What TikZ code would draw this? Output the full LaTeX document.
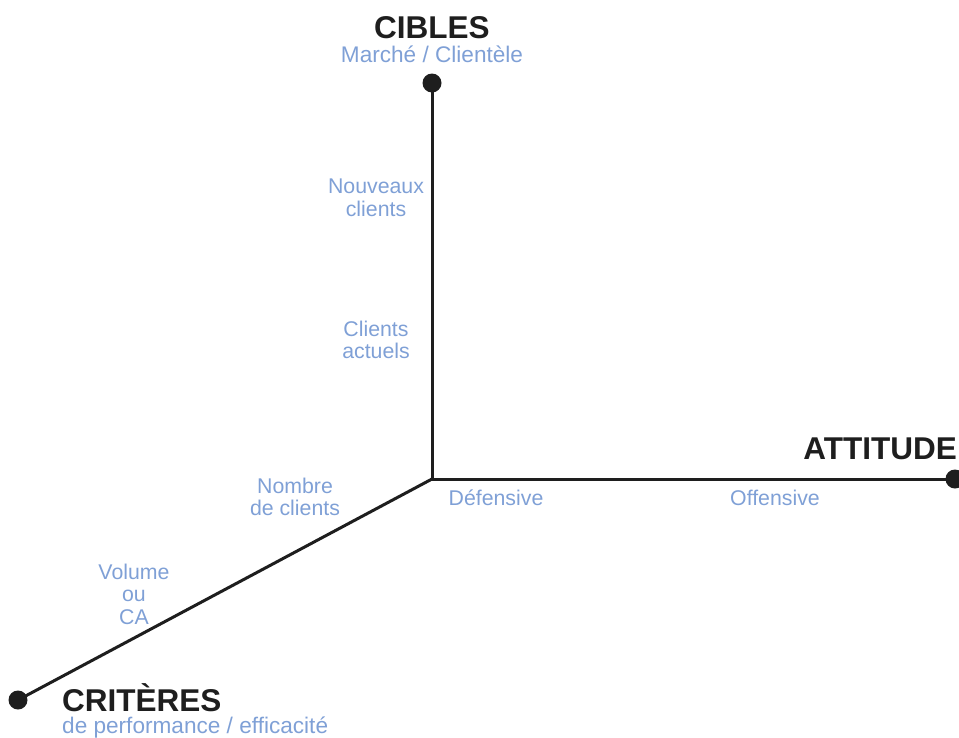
\documentclass[tikz,border=0pt]{standalone}
\usepackage{fontspec}
\setmainfont{Liberation Sans}
\definecolor{axisblue}{RGB}{127,160,214}
\definecolor{axisblack}{RGB}{30,30,30}

\begin{document}
\begin{tikzpicture}[x=1pt,y=-1pt,
    axis/.style={line width=3pt,axisblack},
    enddot/.style={circle,fill=axisblack,inner sep=0pt,minimum size=19pt},
    title/.style={font=\bfseries\fontsize{31.5}{34}\selectfont,text=axisblack,inner sep=0pt},
    subtitle/.style={font=\fontsize{22.6}{24}\selectfont,text=axisblue,inner sep=0pt},
    tick/.style={font=\fontsize{21.3}{22.5}\selectfont,text=axisblue,inner sep=0pt,align=center}]
    \useasboundingbox (0,0) rectangle (959,737);
    %axes
    \coordinate (O) at (432,479);
    \node [enddot] (cibles) at (432,83) {};
    \node [enddot] (attitude) at (955,479) {};
    \node [enddot] (criteres) at (18,700) {};
    \draw [axis] (O) -- (cibles.center);
    \draw [axis] (O) -- (attitude.center);
    \draw [axis] (O) -- (criteres.center);
    %titles
    \node [title,anchor=base] (tcibles) at (432,38) {CIBLES};
    \node [subtitle,anchor=base] (scibles) at (432,62) {Marché / Clientèle};
    \node [title,anchor=base east] (tattitude) at (957,459) {ATTITUDE};
    \node [title,anchor=base west] (tcriteres) at (62,711) {CRITÈRES};
    \node [subtitle,anchor=base west] (scriteres) at (62,733) {de performance / efficacité};
    %graduations
    \node [tick] (nouveaux) at (376,198) {Nouveaux\\clients};
    \node [tick] (actuels) at (376,340) {Clients\\actuels};
    \node [tick,anchor=base] (defensive) at (496,505) {Défensive};
    \node [tick,anchor=base] (offensive) at (775,505) {Offensive};
    \node [tick] (nombre) at (295,497) {Nombre\\de clients};
    \node [tick] (volume) at (134,594) {Volume\\ou\\CA};
\end{tikzpicture}
\end{document}
